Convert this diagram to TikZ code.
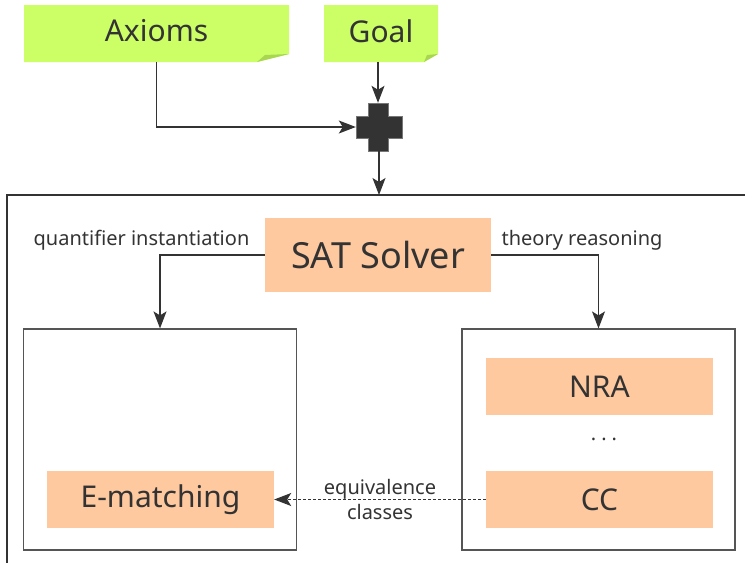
\documentclass[tikz,border=0pt]{standalone}
\usepackage{fontspec}
\setmainfont{Noto Sans}
\usetikzlibrary{arrows.meta}
\definecolor{notegreen}{HTML}{CCFF66}
\definecolor{foldgreen}{HTML}{A8D650}
\definecolor{salmon}{HTML}{FFC9A0}
\definecolor{ink}{HTML}{333333}
\definecolor{frame}{HTML}{555555}
\tikzset{
  every node/.style={text=ink},
  engine/.style={fill=salmon, minimum width=227pt, minimum height=57pt, inner sep=0pt,
                 font=\fontsize{30}{34}\selectfont},
  panel/.style={draw=frame, line width=1.2pt, minimum width=273pt, minimum height=221pt, inner sep=0pt},
  flow/.style={draw=ink, line width=1.2pt, -{Stealth[length=17pt,width=13pt,inset=4pt]}},
  small/.style={font=\fontsize{20}{25}\selectfont, inner sep=0pt},
}
\begin{document}
\begin{tikzpicture}[x=1pt,y=-1pt]
\useasboundingbox (0,0) rectangle (745,563);

% sticky notes with folded corner
\fill[notegreen] (24,5) -- (289,5) -- (289,54) -- (257,62) -- (24,62) -- cycle;
\fill[foldgreen] (257,62) -- (289,54) -- (265,55) -- cycle;
\node[font=\fontsize{30}{34}\selectfont, inner sep=0pt] (axioms) at (156.5,31) {Axioms};
\coordinate (axioms-s) at (156.5,62);
\fill[notegreen] (324,5) -- (438,5) -- (438,54) -- (424,62) -- (324,62) -- cycle;
\fill[foldgreen] (424,62) -- (438,54) -- (427,55) -- cycle;
\node[font=\fontsize{30}{34}\selectfont, inner sep=0pt] (goal) at (381,31) {Goal};
\coordinate (goal-s) at (378,62);

% merge (plus) symbol
\node[minimum width=46pt, minimum height=48pt, inner sep=0pt] (plus) at (379,127) {};
\filldraw[fill=ink, draw=frame!80, line width=0.6pt]
  (368,103) -- (388,103) -- (388,116) -- (402,116) -- (402,138) -- (388,138)
  -- (388,151) -- (368,151) -- (368,138) -- (356,138) -- (356,116) -- (368,116) -- cycle;

\draw[flow] (goal-s) -- (goal-s |- plus.north);
\draw[flow] (axioms-s) |- (plus.west);

% solver frame (runs off the right and bottom)
\coordinate (top) at (379,195);
\draw[draw=ink, line width=1.3pt] (745,195) -- (7,195) -- (7,563);
\draw[flow] (plus.south -| top) -- (top);

% SAT solver and its two branches
\node[fill=salmon, minimum width=226pt, minimum height=74pt, inner sep=0pt,
      font=\fontsize{36}{40}\selectfont] (sat) at (378,255) {SAT Solver};
\node[small] (ql) at (141.5,240) {quantifier instantiation};
\node[small] (tl) at (582,240) {theory reasoning};

\node[panel] (qbox) at (160,439.5) {};
\node[panel] (tbox) at (598.5,439.5) {};

\draw[flow] (sat.west) -| (qbox.north);
\draw[flow] (sat.east) -| (tbox.north);

% engines
\node[engine] (em) at (160.5,499.5) {E-matching};
\node[engine] (nra) at (599.5,386.5) {NRA};
\node[engine] (cc) at (599.5,499.5) {CC};
\node[small] (dots) at (604,439) {.\hspace{5pt}.\hspace{5pt}.};

\draw[flow, dash pattern=on 2.5pt off 2.5pt] (cc.west) -- node[small, align=center, midway] {equivalence\\classes} (em.east);
\end{tikzpicture}
\end{document}
